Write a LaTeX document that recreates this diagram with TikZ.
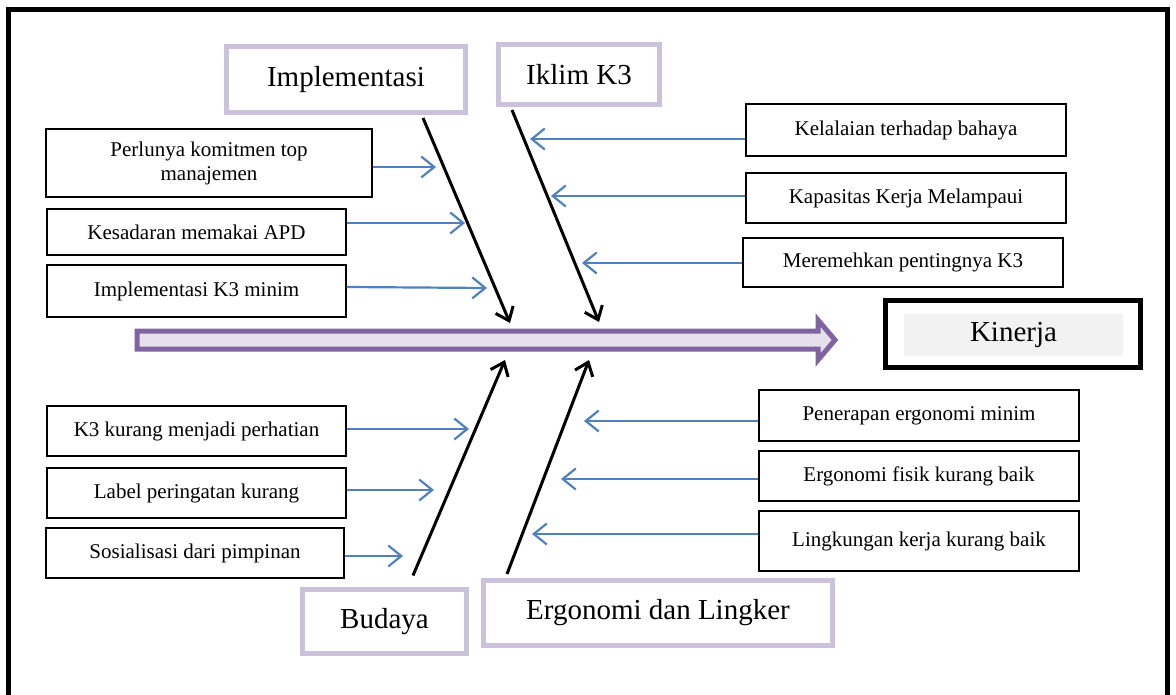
\documentclass[tikz,border=0pt]{standalone}
\usepackage{fontspec}
\setmainfont{Liberation Serif}
\usetikzlibrary{arrows.meta}

\definecolor{causeblue}{HTML}{4F81BD}
\definecolor{lavline}{HTML}{CCC1DA}
\definecolor{spineline}{HTML}{8064A2}
\definecolor{spinefill}{HTML}{E5E0EC}
\definecolor{kinfill}{HTML}{F2F2F2}

\tikzset{
  subbox/.style={draw, line width=1.2pt, inner sep=0pt, align=center,
    font=\fontsize{21}{24}\selectfont},
  catbox/.style={draw=lavline, line width=5pt, inner sep=0pt,
    font=\fontsize{29}{33}\selectfont},
  bone/.style={line width=3pt, -{Straight Barb[length=12pt,width=19pt]}},
  twig/.style={draw=causeblue, line width=2.2pt, -{Straight Barb[length=13pt,width=21pt]}},
  spine/.style={draw=spineline, fill=spinefill, line width=5pt},
}

\begin{document}
\begin{tikzpicture}[x=1pt,y=-1pt]
        \useasboundingbox (0,0) rectangle (1176,695);
        \draw[line width=5pt] (8,695) -- (8,10) -- (1167,10) -- (1167,695);

        % spine and effect
        \draw[spine] (137,331) -- (818,331) -- (818,320) -- (835,340) -- (818,360) -- (818,349) -- (137,349) -- cycle;
        \node[draw, line width=5pt, minimum width=255pt, minimum height=67pt] (kinframe) at (1013,334) {};
        \node[fill=kinfill, minimum width=219pt, minimum height=42pt, inner sep=0pt,
          font=\fontsize{29}{33}\selectfont] (kinerja) at (1013.5,335) {Kinerja};

        % categories
        \node[catbox, minimum width=239pt, minimum height=66pt] (impl) at (346,79.5) {Implementasi};
        \node[catbox, minimum width=161pt, minimum height=60pt] (iklim) at (579,74.5) {Iklim K3};
        \node[catbox, minimum width=164pt, minimum height=64pt] (bud) at (384.5,621.5) {Budaya};
        \node[catbox, minimum width=349pt, minimum height=65pt] (ergo) at (658,613) {Ergonomi dan Lingker};

        \coordinate (implend) at (510,323);
        \coordinate (iklimend) at (599,322);
        \coordinate (budend) at (505,360);
        \coordinate (ergoend) at (589,360);
        \draw[bone] ([xshift=77pt,yshift=-3pt]impl.south) -- (implend);
        \draw[bone] ([xshift=-67pt,yshift=-3pt]iklim.south) -- (iklimend);
        \draw[bone] ([xshift=28.5pt,yshift=11.5pt]bud.north) -- (budend);
        \draw[bone] ([xshift=-151pt,yshift=4pt]ergo.north) -- (ergoend);

        % causes, Implementasi
        \node[subbox, minimum width=326pt, minimum height=68pt] (p1) at (209,163) {Perlunya komitmen top\\manajemen};
        \node[subbox, minimum width=299pt, minimum height=46pt] (p2) at (196.5,232) {Kesadaran memakai APD};
        \node[subbox, minimum width=299pt, minimum height=52pt] (p3) at (196.5,291) {Implementasi K3 minim};
        \coordinate (p1tip) at (436,167);
        \coordinate (p2tip) at (465,223);
        \coordinate (p3tip) at (487,288);
        \draw[twig] (p1.east |- p1tip) -- (p1tip);
        \draw[twig] (p2.east |- p2tip) -- (p2tip);
        \draw[twig] ([yshift=1pt]p3.east |- p3tip) -- (p3tip);

        % causes, Iklim K3
        \node[subbox, minimum width=320pt, minimum height=52pt] (k1) at (906,130) {Kelalaian terhadap bahaya};
        \node[subbox, minimum width=320pt, minimum height=50pt] (k2) at (906,198) {Kapasitas Kerja Melampaui};
        \node[subbox, minimum width=320pt, minimum height=49pt] (k3) at (903,262.5) {Meremehkan pentingnya K3};
        \coordinate (k1tip) at (530,139);
        \coordinate (k2tip) at (551,196);
        \coordinate (k3tip) at (582,263);
        \draw[twig] (k1.west |- k1tip) -- (k1tip);
        \draw[twig] (k2.west |- k2tip) -- (k2tip);
        \draw[twig] (k3.west |- k3tip) -- (k3tip);

        % causes, Budaya
        \node[subbox, minimum width=299pt, minimum height=50pt] (b1) at (196.5,431) {K3 kurang menjadi perhatian};
        \node[subbox, minimum width=299pt, minimum height=50pt] (b2) at (196.5,493) {Label peringatan kurang};
        \node[subbox, minimum width=298pt, minimum height=50pt] (b3) at (195,553) {Sosialisasi dari pimpinan};
        \coordinate (b1tip) at (469,429);
        \coordinate (b2tip) at (434,490);
        \coordinate (b3tip) at (403,556);
        \draw[twig] (b1.east |- b1tip) -- (b1tip);
        \draw[twig] (b2.east |- b2tip) -- (b2tip);
        \draw[twig] (b3.east |- b3tip) -- (b3tip);

        % causes, Ergonomi
        \node[subbox, minimum width=320pt, minimum height=51pt] (e1) at (919,415.5) {Penerapan ergonomi minim};
        \node[subbox, minimum width=320pt, minimum height=50pt] (e2) at (919,476) {Ergonomi fisik kurang baik};
        \node[subbox, minimum width=320pt, minimum height=60pt] (e3) at (919,541) {Lingkungan kerja kurang baik};
        \coordinate (e1tip) at (584,421);
        \coordinate (e2tip) at (561,479);
        \coordinate (e3tip) at (532,534);
        \draw[twig] (e1.west |- e1tip) -- (e1tip);
        \draw[twig] (e2.west |- e2tip) -- (e2tip);
        \draw[twig] (e3.west |- e3tip) -- (e3tip);
      \end{tikzpicture}
\end{document}
